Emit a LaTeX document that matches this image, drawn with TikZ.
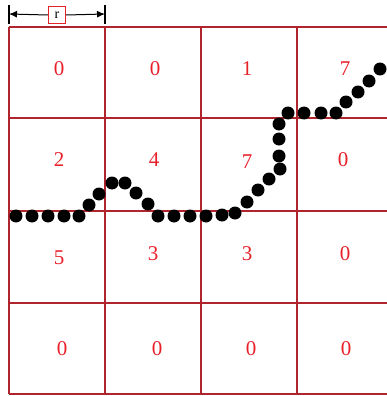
\documentclass[tikz,border=0pt]{standalone}
\usepackage{fontspec}
\setmainfont{Liberation Serif}
\usetikzlibrary{arrows.meta}
\definecolor{gridRed}{HTML}{B0252D}
\definecolor{countRed}{HTML}{E8202A}
\definecolor{ink}{HTML}{000000}
\tikzset{
    gridline/.style={
        draw=gridRed,
        line width=1.4pt
    },
    countlabel/.style={
        font=\fontsize{21}{24}\selectfont,
        text=countRed,
        inner sep=0pt
    },
    trackdot/.style={
        circle,
        fill=ink,
        minimum size=13pt,
        inner sep=0pt
    },
    bar/.style={
        draw=ink,
        line width=1.2pt
    },
    dimarrow/.style={
        -{Latex[length=8pt,width=7pt]},
        draw=ink,
        line width=1pt
    },
    radiusbox/.style={
        draw=countRed,
        fill=white,
        line width=1.2pt,
        minimum width=17pt,
        minimum height=17pt,
        inner sep=0pt,
        font=\fontsize{14}{15}\selectfont,
        text=ink
    }
}

\begin{document}
\begin{tikzpicture}[x=1pt,y=-1pt]
    \useasboundingbox (0,0) rectangle (387,396);
    \clip (0,0) rectangle (387,396);

    % Grid of cells
    \foreach \x in {9,105,201,297,393} {
        \draw[gridline] (\x,27) -- (\x,394);
    }
    \foreach \y in {27,118,211,303,394} {
        \draw[gridline] (9,\y) -- (393,\y);
    }

    % Counts per cell
    \foreach \x/\y/\v [count=\k] in {
        59/69/0, 155/69/0, 247/69/1, 345/69/7,
        59/160/2, 154/160/4, 247/162/7, 343/160/0,
        59/258/5, 153/254/3, 247/254/3, 345/254/0,
        62/349/0, 157/349/0, 251/349/0, 346/349/0} {
        \node[countlabel] (count-\k) at (\x,\y) {\v};
    }

    % Track of points
    \foreach \x/\y [count=\i] in {
        16/216, 32/216, 48/216, 64/216, 79/216,
        89/205, 99/194, 112/183, 125/183, 136/193, 148/204,
        158/216, 174/216, 190/216, 206/216, 222/215,
        235/213, 247/202, 258/190, 269/179, 280/169,
        279/156, 279/139, 279/124, 288/113,
        304/113, 321/113, 336/113,
        346/102, 358/92, 369/81, 380/69} {
        \node[trackdot] (dot-\i) at (\x,\y) {};
    }

    % Cell size marker
    \coordinate (barL) at (9,14);
    \coordinate (barR) at (105,14);
    \draw[bar] (9,5) -- (9,24);
    \draw[bar] (105,5) -- (105,24);
    \node[radiusbox] (rbox) at (57,15) {r};
    \draw[dimarrow] (rbox.west) -- (barL);
    \draw[dimarrow] (rbox.east) -- (barR);

\end{tikzpicture}
\end{document}
